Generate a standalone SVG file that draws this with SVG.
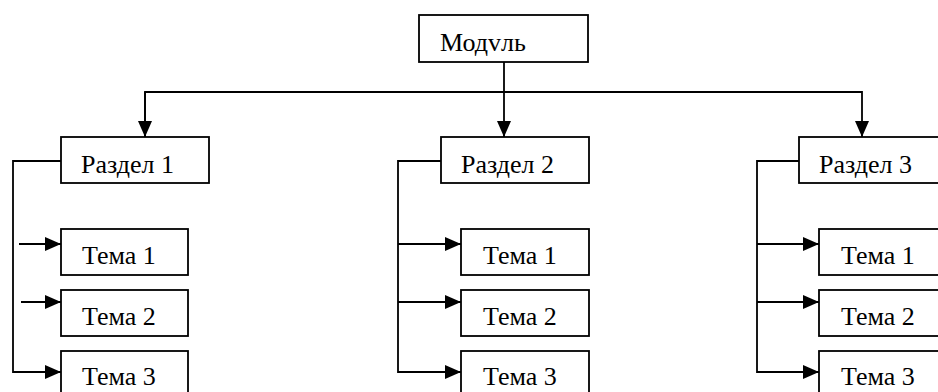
<svg xmlns="http://www.w3.org/2000/svg" width="938" height="392" viewBox="0 0 938 392">
  <style>
    .box { fill: #ffffff; stroke: #000000; stroke-width: 1.8; }
    .lbl { font-family: "Liberation Serif", "Times New Roman", serif; font-size: 26px; fill: #000000; }
    .wire { fill: none; stroke: #000000; stroke-width: 1.8; }
  </style>
  <defs>
    <marker id="arrow" viewBox="0 0 16 14" refX="16" refY="7" markerWidth="16" markerHeight="14" markerUnits="userSpaceOnUse" orient="auto">
      <path d="M0,0 L16,7 L0,14 Z" fill="#000000"/>
    </marker>
  </defs>
  <rect width="938" height="392" fill="#ffffff"/>

  <g id="connectors">
    <!-- module to sections -->
    <path class="wire" d="M504,62 V137" marker-end="url(#arrow)"/>
    <path class="wire" d="M145,137 V92 H862 V137" marker-end="url(#arrow)"/>
    <path class="wire" d="M145,92 V137" marker-end="url(#arrow)"/>
    <!-- section 1 -->
    <path class="wire" d="M61,161 H13 V372 H61" marker-end="url(#arrow)"/>
    <path class="wire" d="M19,244 H61" marker-end="url(#arrow)"/>
    <path class="wire" d="M21,302 H61" marker-end="url(#arrow)"/>
    <!-- section 2 -->
    <path class="wire" d="M441,161 H398 V372 H461" marker-end="url(#arrow)"/>
    <path class="wire" d="M398,244 H461" marker-end="url(#arrow)"/>
    <path class="wire" d="M398,302 H461" marker-end="url(#arrow)"/>
    <!-- section 3 -->
    <path class="wire" d="M799,161 H757 V372 H819" marker-end="url(#arrow)"/>
    <path class="wire" d="M757,244 H819" marker-end="url(#arrow)"/>
    <path class="wire" d="M757,302 H819" marker-end="url(#arrow)"/>
  </g>

  <g id="module">
    <rect class="box" x="419" y="15" width="169" height="47"/>
    <text class="lbl" x="440" y="51">Модvль</text>
  </g>

  <g id="section-1">
    <rect class="box" x="61" y="137" width="148" height="46"/>
    <text class="lbl" x="81" y="173">Раздел 1</text>
  </g>
  <g id="section-1-topic-1">
    <rect class="box" x="61" y="229" width="127" height="46"/>
    <text class="lbl" x="82" y="264">Тема 1</text>
  </g>
  <g id="section-1-topic-2">
    <rect class="box" x="61" y="290" width="127" height="46"/>
    <text class="lbl" x="82" y="325">Тема 2</text>
  </g>
  <g id="section-1-topic-3">
    <rect class="box" x="61" y="351" width="127" height="46"/>
    <text class="lbl" x="82" y="385">Тема 3</text>
  </g>

  <g id="section-2">
    <rect class="box" x="441" y="137" width="148" height="46"/>
    <text class="lbl" x="461" y="173">Раздел 2</text>
  </g>
  <g id="section-2-topic-1">
    <rect class="box" x="461" y="229" width="128" height="46"/>
    <text class="lbl" x="483" y="264">Тема 1</text>
  </g>
  <g id="section-2-topic-2">
    <rect class="box" x="461" y="290" width="128" height="46"/>
    <text class="lbl" x="483" y="325">Тема 2</text>
  </g>
  <g id="section-2-topic-3">
    <rect class="box" x="461" y="351" width="128" height="46"/>
    <text class="lbl" x="483" y="385">Тема 3</text>
  </g>

  <g id="section-3">
    <rect class="box" x="799" y="137" width="148" height="46"/>
    <text class="lbl" x="819" y="173">Раздел 3</text>
  </g>
  <g id="section-3-topic-1">
    <rect class="box" x="819" y="229" width="128" height="46"/>
    <text class="lbl" x="841" y="264">Тема 1</text>
  </g>
  <g id="section-3-topic-2">
    <rect class="box" x="819" y="290" width="128" height="46"/>
    <text class="lbl" x="841" y="325">Тема 2</text>
  </g>
  <g id="section-3-topic-3">
    <rect class="box" x="819" y="351" width="128" height="46"/>
    <text class="lbl" x="841" y="385">Тема 3</text>
  </g>
</svg>
